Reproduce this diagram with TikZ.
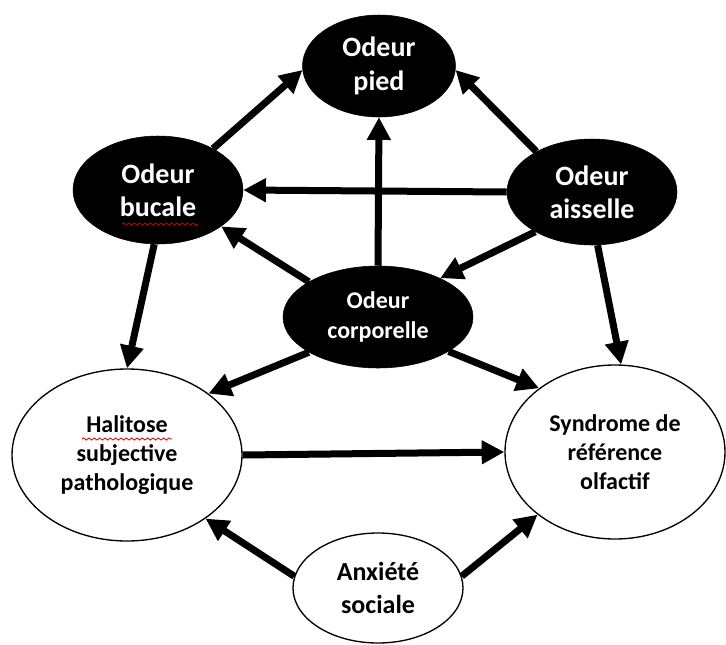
\documentclass[tikz,border=0pt]{standalone}
\usepackage{fontspec}
\setmainfont{Carlito}
\usetikzlibrary{arrows.meta,shapes.geometric,decorations.pathmorphing}

\begin{document}
\begin{tikzpicture}[x=0.75pt,y=-0.75pt,
	blob/.style={ellipse, draw=black, fill=black, text=white, inner sep=0pt, align=center,
		font=\bfseries\fontsize{21}{25}\selectfont},
	bubble/.style={ellipse, draw=black, line width=1pt, fill=white, text=black, inner sep=0pt, align=center,
		font=\bfseries\fontsize{18}{22}\selectfont},
	link/.style={line width=5.25pt, -{Triangle[length=17pt,width=17pt]}},
	squiggle/.style={red!80!black, line width=0.6pt, decorate,
		decoration={snake, segment length=4pt, amplitude=0.8pt}}]

\path [use as bounding box] (0,0) rectangle (726,644);

% NODES
\node [blob, minimum width=114.75pt, minimum height=76.5pt] (pied) at (379,66) {Odeur\\pied};
\node [blob, minimum width=127.5pt, minimum height=81pt] (bucale) at (158,190) {Odeur\\bucale};
\node [blob, minimum width=127.5pt, minimum height=79.5pt] (aisselle) at (592,192) {Odeur\\aisselle};
\node [blob, minimum width=142.5pt, minimum height=76.5pt,
	font=\bfseries\fontsize{18}{23}\selectfont] (corporelle) at (378,317) {Odeur\\corporelle};
\node [bubble, minimum width=172.5pt, minimum height=129pt] (halitose) at (127,455)
	{Halitose\\subjective\\pathologique};
\node [bubble, minimum width=165pt, minimum height=130.5pt] (syndrome) at (615,452)
	{Syndrome de\\r\'ef\'erence\\olfactif};
\node [bubble, minimum width=127.5pt, minimum height=82.5pt,
	font=\bfseries\fontsize{19.5}{25}\selectfont] (anxiete) at (378,588) {Anxi\'et\'e\\sociale};

% SPELLING MARKS
\draw [squiggle] (122,224) -- (198,224);
\draw [squiggle] (82,439) -- (172,439);

% ARROWS
\draw [link] (bucale.37) -- (pied.183);
\draw [link] (aisselle.144) -- (pied.357);
\draw [link] (corporelle.90) -- (pied.270);
\draw [link] (aisselle.west) -- (bucale.east);
\draw [link] (corporelle.153) -- (bucale.330);
\draw [link] (aisselle.215) -- (corporelle.32);
\draw [link] (bucale.266) -- (halitose.90);
\draw [link] (aisselle.276) -- (syndrome.86);
\draw [link] (corporelle.207) -- (halitose.37);
\draw [link] (corporelle.334) -- (syndrome.140);
\draw [link] (halitose.east) -- (syndrome.west);
\draw [link] (anxiete.172) -- (halitose.321);
\draw [link] (anxiete.8) -- (syndrome.219);

\end{tikzpicture}
\end{document}
